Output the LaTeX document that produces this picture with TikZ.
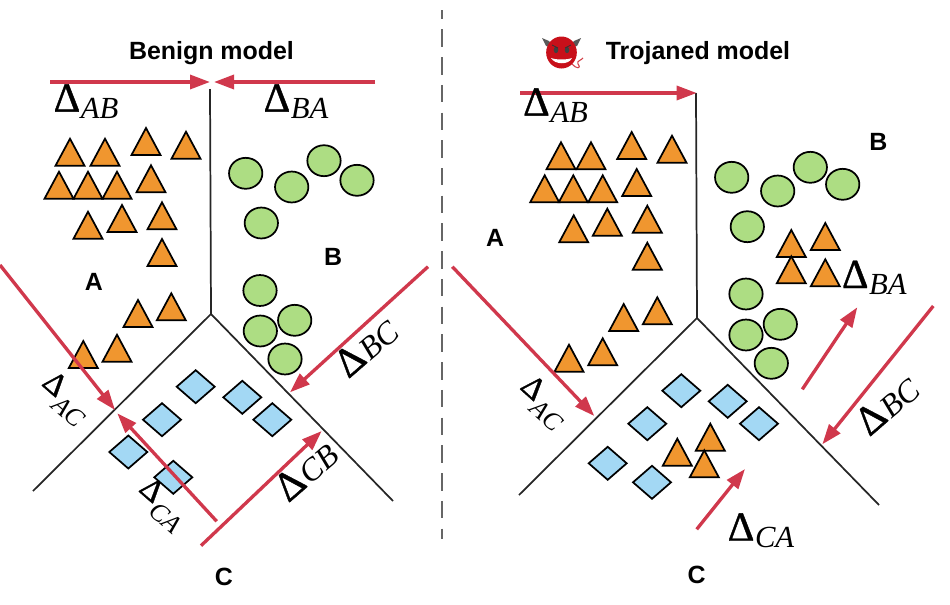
\documentclass[tikz,border=0pt]{standalone}
\usepackage{fontspec}
\setmainfont{Liberation Serif}
\setsansfont{Liberation Sans}
\newfontfamily\deltafont[FakeBold=1]{Liberation Serif}
\usetikzlibrary{arrows.meta}
\definecolor{triC}{HTML}{F0962F}
\definecolor{cirC}{HTML}{ADDD83}
\definecolor{diaC}{HTML}{A3D8F4}
\definecolor{redC}{HTML}{D0384C}
\definecolor{devilC}{HTML}{C8101A}
\newcommand{\dlabel}[1]{{\deltafont\fontsize{31}{31}\selectfont Δ}\kern0.5pt\raisebox{-5pt}{\fontsize{23}{23}\selectfont\itshape #1}}
\newcommand{\dsmall}[1]{{\deltafont\fontsize{24}{24}\selectfont Δ}\kern1pt\raisebox{-8pt}{\fontsize{19.5}{19.5}\selectfont\itshape #1}}
\newcommand{\dmid}[1]{{\deltafont\fontsize{31}{31}\selectfont Δ}\kern1pt\raisebox{-1pt}{\fontsize{24}{24}\selectfont\itshape #1}}
\tikzset{
  tri/.style={draw=black,line width=1.3pt,fill=triC,line join=miter},
  cir/.style={draw=black,line width=1.3pt,fill=cirC},
  dia/.style={draw=black,line width=1.3pt,fill=diaC,line join=miter},
  wall/.style={draw=black!85,line width=1.3pt},
  redarrow/.style={draw=redC,line width=2.5pt,-{Triangle[length=15pt,width=10.5pt]},shorten >=0pt},
  head/.style={font=\sffamily\bfseries\fontsize{18.7}{20}\selectfont,anchor=base,inner sep=0pt},
  region/.style={font=\sffamily\bfseries\fontsize{18.7}{20}\selectfont,anchor=base,inner sep=0pt},
  delta/.style={anchor=base,inner sep=0pt,text=black},
  tilted/.style={anchor=center,inner sep=0pt,text=black},
}
\begin{document}
\begin{tikzpicture}[x=0.75pt,y=-0.75pt]
\useasboundingbox (0,0) rectangle (950,604);
% ---------- named points
\coordinate (lTop) at (210,89);
\coordinate (lApex) at (211,314);
\coordinate (lLeft) at (33,491);
\coordinate (lRight) at (393,501);
\coordinate (rTop) at (696,93);
\coordinate (rApex) at (697,318);
\coordinate (rLeft) at (519,495);
\coordinate (rRight) at (879,505);
\coordinate (dashA) at (442,10);
\coordinate (dashB) at (442,539);
% ---------- divider
\draw[black!60,line width=1.5pt,dash pattern=on 13.1pt off 7.7pt,dash phase=6.3pt] (dashA) -- (dashB);
% ---------- walls
\draw[wall] (lTop) -- (lApex) -- (lLeft);
\draw[wall] (lApex) -- (lRight);
\draw[wall] (rTop) -- (rApex) -- (rLeft);
\draw[wall] (rApex) -- (rRight);
% ---------- triangles
\foreach \x/\y in {70/165.7,105/165.7,146/155,186/158.7,59/198.7,88/198.7,117/198.7,151/192.3,88/238.7,122/232,162/229.3,162/266,138/327,171.3/320.3,83.3/368,117/361.7,
 561/169.3,591/169.3,631.7/159,672/162.7,544.7/202.3,573.3/202.3,602.7/202.3,636.7/196,573.7/242.3,607.3/235.7,647.3/232.7,647.3/269.7,623.7/331,657.3/324.3,569/371.7,602.7/365.3,
 791.3/257,825.3/250,791.3/283.3,825.3/286.3,710.3/450.7,677.3/465.7,704.3/477.3}
  \draw[tri] ({\x-14.5},\y) -- (\x,{\y-27}) -- ({\x+14.5},\y) -- cycle;
% ---------- circles
\foreach \x/\y in {245.7/173.3,291.7/187,324/160.7,357/180.3,261.3/223,260/290.5,260.3/331,294.7/320.3,285/359,
 731.7/177.3,777.7/191,810.3/167.3,842.7/184.3,747.3/226.7,746/294,746/335,780.3/324.3,771.3/363.3}
  \draw[cir] (\x,\y) ellipse [x radius=12.5pt,y radius=11.6pt];
% ---------- diamonds
\foreach \x/\y in {195.7/386.7,242.3/397.3,272.3/419.7,162/419.7,128.3/452,173.3/477.3,
 681.3/390.7,727.7/401.3,759/423.7,647.3/423.7,607.7/463.3,652/482.3}
  \draw[dia] ({\x-19},\y) -- (\x,{\y-16.5}) -- ({\x+19},\y) -- (\x,{\y+16.5}) -- cycle;
% ---------- red arrows
\coordinate (abS) at (50,82);   \coordinate (abE) at (210,82);
\coordinate (baS) at (375,82);  \coordinate (baE) at (214,82);
\coordinate (acS) at (0,265);   \coordinate (acE) at (115,410);
\coordinate (caS) at (216.7,521.3); \coordinate (caE) at (117.3,413.3);
\coordinate (bcS) at (428,266.7);   \coordinate (bcE) at (290,392.3);
\coordinate (cbS) at (201,545.7);   \coordinate (cbE) at (321.7,431);
\coordinate (rabS) at (520,93);     \coordinate (rabE) at (696.7,93);
\coordinate (racS) at (452.3,266.7);\coordinate (racE) at (594.3,416);
\coordinate (rbcS) at (933.3,306);  \coordinate (rbcE) at (822.3,444.3);
\coordinate (rbaS) at (802.3,389.3);\coordinate (rbaE) at (857.3,307.3);
\coordinate (rcaS) at (696.7,529.3);\coordinate (rcaE) at (745,469);
\foreach \s/\e in {abS/abE,baS/baE,acS/acE,caS/caE,bcS/bcE,cbS/cbE,rabS/rabE,racS/racE,rbcS/rbcE,rbaS/rbaE,rcaS/rcaE}
  \draw[redarrow] (\s) -- (\e);
% ---------- delta labels
\node[delta] (lAB) at (86,111.7) {\dlabel{AB}};
\node[delta] (lBA) at (296,111.7) {\dlabel{BA}};
\node[tilted,rotate=41] (lBC) at (366,347) {\dmid{BC}};
\node[tilted,rotate=41] (lCB) at (306,471) {\dmid{CB}};
\node[tilted,rotate=-41] (lAC) at (65,399) {\dsmall{AC}};
\node[tilted,rotate=-41] (lCA) at (162,505) {\dsmall{CA}};
\node[delta] (rAB) at (555.5,115.7) {\dlabel{AB}};
\node[delta] (rBA) at (874.3,288) {\dlabel{BA}};
\node[delta] (rCA) at (761,540.7) {\dlabel{CA}};
\node[tilted,rotate=-42] (rAC) at (543,403) {\dsmall{AC}};
\node[tilted,rotate=41] (rBC) at (887,405) {\dmid{BC}};
% ---------- text labels
\node[head] (tBenign) at (211.5,59) {Benign model};
\node[head] (tTroj) at (698,59) {Trojaned model};
\node[region] (lA) at (94,290) {A};
\node[region] (lB) at (333,265) {B};
\node[region] (lC) at (224,585) {C};
\node[region] (rA) at (495,246) {A};
\node[region] (rB) at (878.3,150) {B};
\node[region] (rC) at (696.7,583) {C};
% ---------- devil icon
\fill[black!65] (542,38) -- (549,41) -- (553,46) -- (546,46) -- cycle;
\fill[black!65] (581,38) -- (574,41) -- (570,46) -- (577,46) -- cycle;
\fill[devilC] (561.5,52.5) ellipse [x radius=11.5pt,y radius=12pt];
\fill[black!75] (556,50) ellipse [x radius=1.7pt,y radius=2.4pt];
\fill[black!75] (567,50) ellipse [x radius=1.7pt,y radius=2.4pt];
\draw[black!80,line width=.6pt] (552,45) -- (558,48);
\draw[black!80,line width=.6pt] (571,45) -- (565,48);
\fill[white] (551,58) .. controls (556,60) and (567,60) .. (572,58) .. controls (569,65) and (555,65) .. (551,58) -- cycle;
\draw[devilC!80,line width=.8pt] (572,64) .. controls (576,69) and (582,69) .. (578,64) .. controls (576,61) and (582,60) .. (583,58);
\end{tikzpicture}
\end{document}
